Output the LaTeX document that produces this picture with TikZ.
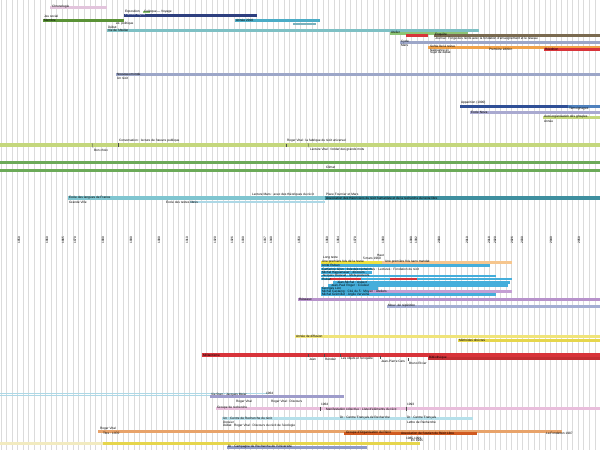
\documentclass[tikz,border=0pt]{standalone}
\usepackage{fontspec}
\setmainfont{Liberation Sans}
\definecolor{lpink}{HTML}{E2C4DC}
\definecolor{navy}{HTML}{2E3F7F}
\definecolor{olive}{HTML}{5A9236}
\definecolor{cyanb}{HTML}{4BACC6}
\definecolor{tealL}{HTML}{7EC0C4}
\definecolor{lgreen}{HTML}{8CC474}
\definecolor{redb}{HTML}{D8343A}
\definecolor{brown}{HTML}{7A6A50}
\definecolor{greyblue}{HTML}{9CA6C8}
\definecolor{orangeb}{HTML}{F0A24A}
\definecolor{blueb}{HTML}{2F4F96}
\definecolor{blueL}{HTML}{4F81BD}
\definecolor{lav}{HTML}{A9A9D0}
\definecolor{ygreen}{HTML}{C4D77C}
\definecolor{greenb}{HTML}{6BAA58}
\definecolor{tealD}{HTML}{3E8F9F}
\definecolor{tealM}{HTML}{7FC5D0}
\definecolor{yel}{HTML}{EEE040}
\definecolor{lorange}{HTML}{F6C68E}
\definecolor{bcyan}{HTML}{45AEDB}
\definecolor{purpL}{HTML}{C49FD4}
\definecolor{purp}{HTML}{B792CB}
\definecolor{lyel}{HTML}{F0E47A}
\definecolor{yel2}{HTML}{E6D64C}
\definecolor{pinkb}{HTML}{E9BEDC}
\definecolor{lcyan}{HTML}{B6E0EA}
\definecolor{tan}{HTML}{E8A36A}
\definecolor{dorange}{HTML}{D05A20}
\definecolor{beige}{HTML}{F2EBC0}
\definecolor{bgrey}{HTML}{8E9AC8}
\definecolor{lblue}{HTML}{ADD8E6}
\newcommand\tlbar[5]{\fill[#4] ({#2},{#1-#5/2}) rectangle ({#3},{#1+#5/2});}
\begin{document}
\begin{tikzpicture}[x=0.5pt,y=-0.5pt,
  lab/.style={font=\fontsize{1.6}{1.9}\selectfont,anchor=west,inner sep=0.3pt,text=black},
  tick/.style={draw=black!70,line width=0.15pt}]
\useasboundingbox (0,0) rectangle (600,450);
\fill[white] (0,0) rectangle (600,450);
\foreach \i in {0,...,108} {\draw[black!14,line width=0.3pt] ({\i*5.55+1},0) -- ({\i*5.55+1},450);}
% ---- top block
\tlbar{7}{50}{107}{lpink}{3}
\node[lab] (l1) at (51,7) {Chronologie};
\node[lab] (l2) at (124,11.5) {Exposition};
\fill[lgreen] (143,10.5) rectangle (150,13);
\node[lab] (l3) at (143,11.5) {Colloque};
\node[lab] (l4) at (156,11.5) {— Voyage};
\tlbar{15}{124}{257}{navy}{3}
\node[lab,text=white] (l5) at (124,15) {Premier séjour};
\node[lab] (l6) at (43,16.5) {Jeu social};
\tlbar{20}{43}{124}{olive}{3}
\node[lab] (l7) at (43,20) {Membre};
\tlbar{20}{235}{320}{cyanb}{3}
\node[lab] (l8) at (235,20) {Année 2010};
\tlbar{24}{293}{316}{tealD!70}{2.5}
\node[lab] (l9) at (115,24) {ex. politique};
\node[lab] (l10) at (107,27) {Début};
\tlbar{30}{107}{479}{tealL}{3}
\node[lab] (l11) at (107,30) {Vie de l'Atelier};
\tlbar{33}{390}{468}{lgreen}{3}
\node[lab] (l12) at (390,32.5) {Atelier};
\tlbar{35}{406}{428}{redb}{3}
\tlbar{35}{434}{600}{brown}{3}
\node[lab] (l13) at (434,34.5) {Enquête};
\node[lab] (l14) at (434,39) {Journal : Forge des récits avec la fondation d'enseignement et le réseau};
\tlbar{42}{400}{600}{greyblue}{3}
\node[lab] (l15) at (400,41.5) {Cycle};
\node[lab] (l16) at (400,45.5) {Mars};
\tlbar{47}{428}{600}{orangeb}{3}
\node[lab] (l17) at (429,46.5) {Sortie de la revue};
\node[lab] (l18) at (488,49.5) {Première édition};
\tlbar{49}{544}{600}{redb}{3}
\node[lab] (l19) at (544,49) {Réédition};
\node[lab] (l20) at (429,50) {Naissance};
\node[lab] (l21) at (445,50) {ici};
\node[lab] (l22) at (429,53) {Sujet de débat};
\tlbar{74}{116}{600}{greyblue}{3}
\node[lab] (l23) at (116,74) {Nouveau monde};
\node[lab] (l24) at (116,78) {Un récit};
% ---- middle
\node[lab] (l25) at (460,102.5) {Apparition (1990)};
\tlbar{106}{460}{600}{blueb}{3}
\tlbar{106}{568}{600}{blueL}{3}
\node[lab] (l26) at (568,109) {Témoignages};
\tlbar{112}{470}{600}{lav}{3}
\node[lab] (l27) at (470,112) {Ecole Nova};
\tlbar{117}{543}{600}{ygreen}{3}
\node[lab] (l28) at (543,116.5) {Auto-organisation des groupes};
\node[lab] (l29) at (543,121) {Année};
\tlbar{145}{0}{600}{ygreen}{3.5}
\node[lab] (l30) at (93,150) {Bon choix};
\draw[tick] (92,143) -- (l30.north west);
\node[lab] (l31) at (118,141) {Conversation : lecture de l'œuvre publique};
\draw[tick] (l31.south west) -- (118,147);
\node[lab] (l32) at (286,141) {Roger Vital : la fabrique du récit universel};
\draw[tick] (l32.south west) -- (286,147);
\node[lab] (l33) at (309,150) {Lecture Vital : fonder des grands mots};
\draw[tick] (308,143) -- (l33.north west);
\tlbar{162}{0}{600}{greenb}{3}
\tlbar{170}{0}{600}{greenb}{3}
\node[lab] (l34) at (325,167) {Climat};
% ---- teal block
\tlbar{198}{68}{325}{tealM}{3.5}
\tlbar{198}{325}{600}{tealD}{3.5}
\node[lab] (l35) at (68,198) {Ecole des langues de France};
\node[lab] (l36) at (68,202.5) {Grande Ville};
\draw[lblue,line width=0.6pt] (190,202) -- (325,202);
\node[lab] (l37) at (165,202) {Ecole des textes libres};
\node[lab] (l38) at (251,194.5) {Lecture Mars : avec des théoriques du récit};
\node[lab] (l39) at (325,194.5) {Place Fournier et Mars};
\node[lab,text=black] (l40) at (325,198) {Association des théoriciens du récit humaniste et de la recherche du texte libre};
% ---- axis
\foreach \x/\t in {19/1850,47/1860,63/1865,75/1870,103/1880,131/1890,159/1900,187/1910,215/1920,232/1926,243/1930,265/1937,271/1940,299/1950,327/1960,338/1964,355/1970,383/1980,411/1990,416/1992,439/2000,467/2010,489/2018,495/2020,512/2026,522/2030,551/2040,579/2050}
  {\node[font=\fontsize{1.6}{1.9}\selectfont,inner sep=0pt,rotate=90] at (\x,240) {\t};}
% ---- dense block
\node[lab] (l41) at (376,255.5) {Haut};
\node[lab] (l42) at (322,258) {Long texte};
\node[lab] (l43) at (362,258) {5 mars 1960};
\tlbar{262}{321}{382}{yel}{3}
\tlbar{262}{382}{512}{lorange}{3}
\node[lab] (l44) at (321,262) {Une première fois de la revue};
\node[lab] (l45) at (384,262) {Une première fois sans mandat};
\tlbar{265.5}{321}{490}{bcyan}{2.8}
\node[lab] (l46) at (321,265.5) {Unité Ruban};
\tlbar{269}{321}{372}{bcyan}{2.8}
\node[lab] (l47) at (321,269) {Catherine Grün : liste des recherches : Lectures : Fondation du récit};
\tlbar{272.5}{321}{372}{bcyan}{2.8}
\node[lab] (l48) at (321,272.5) {Michel Haguenauer : discours};
\tlbar{276}{321}{496}{bcyan}{2.8}
\node[lab] (l49) at (321,276) {Jacques Roussel : Mots-pouvoirs};
\tlbar{279}{321}{512}{bcyan}{2.8}
\tlbar{279}{330}{361}{redb}{2.8}
\tlbar{279}{390}{417}{redb}{2.8}
\node[lab] (l50) at (321,279) {Ruban};
\tlbar{282.5}{333}{510}{bcyan}{2.8}
\node[lab] (l51) at (336,282.5) {Jean-Michel : Aspect};
\tlbar{285.5}{328}{508}{bcyan}{2.8}
\node[lab] (l52) at (330,285.5) {Jean-Paul Roger : Couleur};
\tlbar{288.5}{321}{378}{bcyan}{2.8}
\node[lab] (l53) at (321,288.5) {Georges Lion};
\tlbar{291.5}{321}{369}{bcyan}{2.8}
\tlbar{291.5}{369}{512}{purpL}{2.8}
\node[lab] (l54) at (321,291.5) {Michel Castaing : Cité du 5 : Moyen : Ateliers};
\tlbar{294.5}{321}{496}{bcyan}{2.8}
\node[lab] (l55) at (321,294.5) {Michel Grémillet : Argile Verveine};
\tlbar{299.5}{298}{600}{purp}{3}
\node[lab] (l56) at (298,299.5) {Réseaux};
\tlbar{306}{387}{600}{bgrey!80}{3}
\node[lab] (l57) at (387,306) {Mouv. de répétition};
% ---- yellow & red
\tlbar{336}{295}{600}{lyel}{3}
\node[lab] (l58) at (295,336) {Année de diffusion};
\tlbar{340}{458}{600}{yel2}{3}
\node[lab] (l59) at (458,340) {Méthodes directes};
\tlbar{355}{202}{600}{redb}{3.5}
\tlbar{358}{428}{600}{redb!90!black}{3}
\node[lab] (l60) at (202,355) {Militantisme};
\node[lab] (l61) at (428,357.5) {Bibliothèque};
\node[lab] (l62) at (308,359) {Jean};
\node[lab] (l63) at (324,359) {Rendez};
\node[lab] (l64) at (340,359) {Les objets et l'enquête};
\node[lab] (l65) at (380,361) {Jean-Pierre Cats};
\node[lab] (l66) at (408,363) {Bruno Rivier};
\foreach \n in {l62,l63,l64,l65,l66} {\draw[tick] (\n.north west) -- ++(0,-2.5);}
% ---- bottom
\draw[lblue,line width=0.5pt] (0,393) -- (268,393);
\draw[lblue,line width=0.5pt] (0,395.5) -- (268,395.5);
\tlbar{396}{210}{344}{bgrey!70!purpL}{3}
\node[lab] (l67) at (210,394.5) {Vie Stan : Jacques Meier};
\node[lab] (l68) at (265,393) {1964};
\node[lab] (l69) at (235,402) {Roger Vital};
\node[lab] (l70) at (270,402) {Roger Vital : Discours};
\tlbar{408}{216}{600}{pinkb}{3}
\node[lab] (l71) at (216,408) {Groupe de recherche};
\node[lab] (l72) at (325,409) {Manifestation collective : Liste d'éléments du récit};
\node[lab] (l73) at (320,404.5) {1964};
\node[lab] (l74) at (406,404.5) {1993};
\draw[tick] (l73.south west) -- (320,411);
\draw[tick] (l74.south west) -- (406,411);
\tlbar{418}{222}{473}{lcyan}{3}
\node[lab] (l75) at (222,418) {Un : Centre de Recherche du récit};
\node[lab] (l76) at (339,418) {Dr : Centre Français de Recherche};
\node[lab] (l77) at (406,418) {Dr : Centre Français};
\node[lab] (l78) at (222,422) {Dossier};
\node[lab] (l79) at (222,425.5) {Débat};
\node[lab] (l80) at (233,425.5) {Roger Vital : Discours du récit de l'écologie};
\node[lab] (l81) at (406,422) {Lettre de Recherche};
\tlbar{431}{98}{562}{tan}{3}
\tlbar{433}{344}{477}{dorange}{3}
\node[lab] (l82) at (99,428.5) {Roger Vital};
\node[lab] (l83) at (102,433) {Titre : 1970};
\node[lab] (l84) at (345,433) {Groupe d'Organisation du Récit};
\node[lab] (l85) at (400,433) {Association de Soutien du Récit Libre};
\node[lab] (l86) at (545,433) {La Fondation 1987};
\node[lab] (l87) at (405,438) {1985-1999};
\tlbar{443}{0}{103}{beige}{3}
\tlbar{443}{103}{420}{yel2}{3}
\node[lab] (l88) at (410,440) {En 1995};
\tlbar{447}{227}{367}{bgrey}{3}
\node[lab] (l89) at (227,447) {Dr : Campagne de Recherche de l'Université};
\end{tikzpicture}
\end{document}
